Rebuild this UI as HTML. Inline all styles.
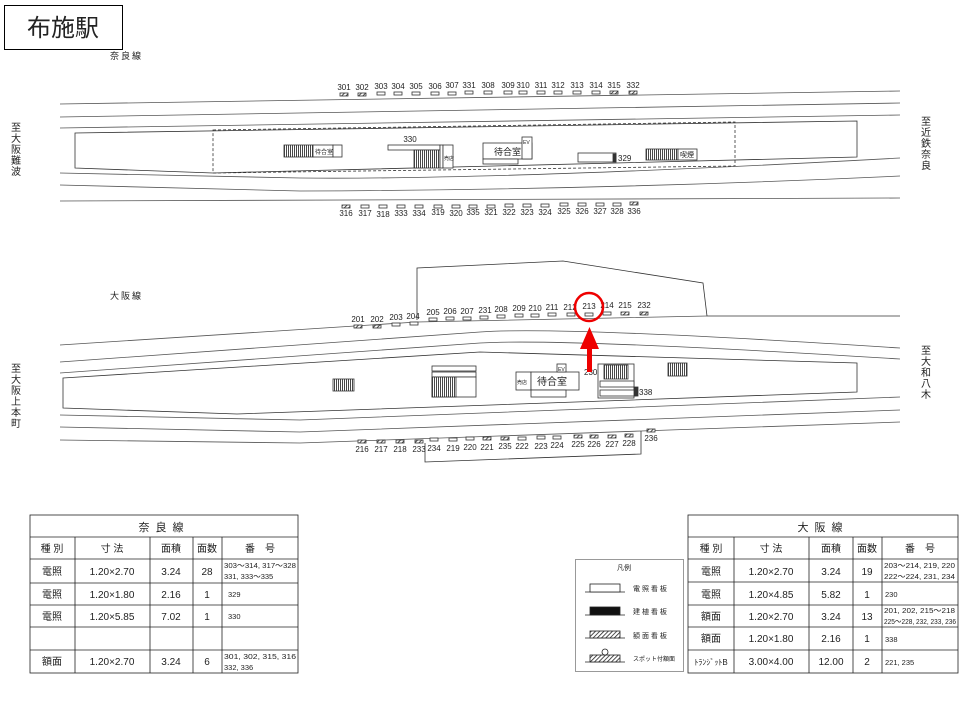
<!DOCTYPE html>
<html><head><meta charset="utf-8"><style>
html,body{margin:0;padding:0;background:#fff}
svg{display:block}
text{font-family:"Liberation Sans","Noto Sans CJK JP",sans-serif;fill:#222}
.n{font-size:8px;text-anchor:middle}
.t{font-size:10px}
</style></head><body>
<svg width="960" height="720" viewBox="0 0 960 720" xmlns="http://www.w3.org/2000/svg">
<defs>
<pattern id="h" width="3" height="3" patternUnits="userSpaceOnUse" patternTransform="rotate(45)"><rect width="3" height="3" fill="#fff"/><line x1="0" y1="0" x2="0" y2="3" stroke="#222" stroke-width="1.6"/></pattern>
<pattern id="st" width="2" height="4" patternUnits="userSpaceOnUse"><rect width="2" height="4" fill="#fff"/><line x1="0.5" y1="0" x2="0.5" y2="4" stroke="#333" stroke-width="0.9"/></pattern>
</defs>
<rect x="4.5" y="5.5" width="118" height="44" fill="none" stroke="#000"/>
<text x="63" y="36" style="font-size:24px" text-anchor="middle" fill="#000">布施駅</text>
<text x="110" y="59" style="font-size:9px;letter-spacing:2px">奈良線</text>

<g fill="none" stroke="#555" stroke-width="0.8">
<path d="M60,104 L900,91"/>
<path d="M60,117 L900,103"/>
<path d="M60,128 L900,115"/>
<path d="M75,133 L857,121 L857,157 L213,173 L75,168 Z" stroke="#333"/>
<path d="M213,130 L735,122 L735,166 L213,173 Z" stroke="#333" stroke-dasharray="3,2"/>
<path d="M60,173 L300,178 Q500,180 900,158"/>
<path d="M60,185 L300,191 Q600,190 900,176"/>
<path d="M60,201 L900,198"/>
<path d="M417,320 L417,268 L563,261 L703,283 L707,316 L900,316" stroke="#333"/>
<path d="M60,345 L417,322 L707,316"/>
<path d="M60,362 L480,332 Q560,326 900,348"/>
<path d="M60,373 L480,343 Q560,338 900,359"/>
<path d="M63,378 L480,352 L857,363 L857,392 L237,414 L63,408 Z" stroke="#333"/>
<path d="M60,415 L300,420 L900,397"/>
<path d="M60,427 L300,432 L900,410"/>
<path d="M60,440 L300,443 L641,431 L900,422"/>
<path d="M425,443 L425,462 L641,454 L641,431" stroke="#333"/>
</g>

<g stroke="#333" stroke-width="0.8">
<rect x="284" y="145" width="29" height="12" fill="url(#st)"/>
<rect x="313" y="145" width="20" height="12" fill="#fff"/>
<rect x="333" y="145" width="9" height="12" fill="#fff"/>
<rect x="388" y="145" width="52" height="5" fill="#fff"/>
<rect x="414" y="150" width="26" height="18" fill="url(#st)"/>
<rect x="440" y="145" width="3" height="23" fill="#fff"/>
<rect x="443" y="145" width="10" height="23" fill="#fff"/>
<rect x="483" y="143" width="49" height="16" fill="#fff"/>
<rect x="522" y="137" width="10" height="22" fill="#fff"/>
<rect x="483" y="159" width="35" height="5" fill="#fff"/>
<rect x="578" y="153" width="38" height="9" fill="#fff"/>
<rect x="613" y="154" width="3" height="8" fill="#333"/>
<rect x="646" y="149" width="32" height="11" fill="url(#st)"/>
<rect x="678" y="149" width="19" height="11" fill="#fff"/>
</g>
<text x="315" y="154" style="font-size:6px">待合室</text>
<text x="410" y="142" class="n">330</text>
<text x="444" y="160" style="font-size:5px">売店</text>
<text x="494" y="155" style="font-size:9px">待合室</text>
<text x="523" y="144" style="font-size:5px">EV</text>
<text x="618" y="161" style="font-size:8px">329</text>
<text x="680" y="157" style="font-size:7px">喫煙</text>

<g stroke="#333" stroke-width="0.8">
<rect x="333" y="379" width="21" height="12" fill="url(#st)"/>
<rect x="432" y="366" width="44" height="5" fill="#fff"/>
<rect x="432" y="372" width="44" height="5" fill="#fff"/>
<rect x="432" y="377" width="44" height="20" fill="#fff"/>
<rect x="432" y="377" width="24" height="20" fill="url(#st)"/>
<rect x="516" y="372" width="15" height="18" fill="#fff"/>
<rect x="531" y="372" width="48" height="18" fill="#fff"/>
<rect x="557" y="364" width="9" height="8" fill="#fff"/>
<rect x="531" y="390" width="35" height="7" fill="#fff"/>
<rect x="598" y="364" width="36" height="34" fill="#fff"/>
<rect x="604" y="365" width="24" height="14" fill="url(#st)"/>
<rect x="600" y="381" width="34" height="6" fill="#fff"/>
<rect x="600" y="390" width="36" height="6" fill="#fff"/>
<rect x="634" y="387" width="4" height="9" fill="#333"/>
<rect x="668" y="363" width="19" height="13" fill="url(#st)"/>
</g>
<text x="517" y="384" style="font-size:5px">売店</text>
<text x="537" y="385" style="font-size:10px">待合室</text>
<text x="558" y="371" style="font-size:5px">EV</text>
<text x="584" y="375" style="font-size:8px">230</text>
<text x="639" y="395" style="font-size:8px">338</text>

<g stroke="#333" stroke-width="0.8">
<rect x="340" y="93" width="8" height="3" fill="url(#h)"/><rect x="358" y="93" width="8" height="3" fill="url(#h)"/>
<rect x="377" y="92" width="8" height="3" fill="#fff"/><rect x="394" y="92" width="8" height="3" fill="#fff"/>
<rect x="412" y="92" width="8" height="3" fill="#fff"/><rect x="431" y="92" width="8" height="3" fill="#fff"/>
<rect x="448" y="92" width="8" height="3" fill="#fff"/><rect x="465" y="91" width="8" height="3" fill="#fff"/>
<rect x="484" y="91" width="8" height="3" fill="#fff"/><rect x="504" y="91" width="8" height="3" fill="#fff"/>
<rect x="519" y="91" width="8" height="3" fill="#fff"/><rect x="537" y="91" width="8" height="3" fill="#fff"/>
<rect x="554" y="91" width="8" height="3" fill="#fff"/><rect x="573" y="91" width="8" height="3" fill="#fff"/>
<rect x="592" y="91" width="8" height="3" fill="#fff"/><rect x="610" y="91" width="8" height="3" fill="url(#h)"/>
<rect x="629" y="91" width="8" height="3" fill="url(#h)"/>
</g>
<text class="n" x="344" y="90">301</text><text class="n" x="362" y="90">302</text><text class="n" x="381" y="89">303</text><text class="n" x="398" y="89">304</text><text class="n" x="416" y="89">305</text><text class="n" x="435" y="89">306</text><text class="n" x="452" y="88">307</text><text class="n" x="469" y="88">331</text><text class="n" x="488" y="88">308</text><text class="n" x="508" y="88">309</text><text class="n" x="523" y="88">310</text><text class="n" x="541" y="88">311</text><text class="n" x="558" y="88">312</text><text class="n" x="577" y="88">313</text><text class="n" x="596" y="88">314</text><text class="n" x="614" y="88">315</text><text class="n" x="633" y="88">332</text>

<g stroke="#333" stroke-width="0.8">
<rect x="342" y="205" width="8" height="3" fill="url(#h)"/><rect x="361" y="205" width="8" height="3" fill="#fff"/>
<rect x="379" y="205" width="8" height="3" fill="#fff"/><rect x="397" y="205" width="8" height="3" fill="#fff"/>
<rect x="415" y="205" width="8" height="3" fill="#fff"/><rect x="434" y="205" width="8" height="3" fill="#fff"/>
<rect x="452" y="205" width="8" height="3" fill="#fff"/><rect x="469" y="205" width="8" height="3" fill="#fff"/>
<rect x="487" y="205" width="8" height="3" fill="#fff"/><rect x="505" y="204" width="8" height="3" fill="#fff"/>
<rect x="523" y="204" width="8" height="3" fill="#fff"/><rect x="541" y="204" width="8" height="3" fill="#fff"/>
<rect x="560" y="203" width="8" height="3" fill="#fff"/><rect x="578" y="203" width="8" height="3" fill="#fff"/>
<rect x="596" y="203" width="8" height="3" fill="#fff"/><rect x="613" y="203" width="8" height="3" fill="#fff"/>
<rect x="630" y="202" width="8" height="3" fill="url(#h)"/>
</g>
<text class="n" x="346" y="216">316</text><text class="n" x="365" y="216">317</text><text class="n" x="383" y="217">318</text><text class="n" x="401" y="216">333</text><text class="n" x="419" y="216">334</text><text class="n" x="438" y="215">319</text><text class="n" x="456" y="216">320</text><text class="n" x="473" y="215">335</text><text class="n" x="491" y="215">321</text><text class="n" x="509" y="215">322</text><text class="n" x="527" y="215">323</text><text class="n" x="545" y="215">324</text><text class="n" x="564" y="214">325</text><text class="n" x="582" y="214">326</text><text class="n" x="600" y="214">327</text><text class="n" x="617" y="214">328</text><text class="n" x="634" y="214">336</text>

<text x="110" y="299" style="font-size:9px;letter-spacing:2px">大阪線</text>
<g stroke="#333" stroke-width="0.8">
<rect x="354" y="325" width="8" height="3" fill="url(#h)"/><rect x="373" y="325" width="8" height="3" fill="url(#h)"/>
<rect x="392" y="323" width="8" height="3" fill="#fff"/><rect x="410" y="322" width="8" height="3" fill="#fff"/>
<rect x="429" y="318" width="8" height="3" fill="#fff"/><rect x="446" y="317" width="8" height="3" fill="#fff"/>
<rect x="463" y="317" width="8" height="3" fill="#fff"/><rect x="480" y="316" width="8" height="3" fill="#fff"/>
<rect x="497" y="315" width="8" height="3" fill="#fff"/><rect x="515" y="314" width="8" height="3" fill="#fff"/>
<rect x="531" y="314" width="8" height="3" fill="#fff"/><rect x="548" y="313" width="8" height="3" fill="#fff"/>
<rect x="567" y="313" width="8" height="3" fill="#fff"/><rect x="585" y="313" width="8" height="3" fill="#fff"/>
<rect x="603" y="312" width="8" height="3" fill="#fff"/><rect x="621" y="312" width="8" height="3" fill="url(#h)"/>
<rect x="640" y="312" width="8" height="3" fill="url(#h)"/>
</g>
<text class="n" x="358" y="322">201</text><text class="n" x="377" y="322">202</text><text class="n" x="396" y="320">203</text><text class="n" x="413" y="319">204</text><text class="n" x="433" y="315">205</text><text class="n" x="450" y="314">206</text><text class="n" x="467" y="314">207</text><text class="n" x="485" y="313">231</text><text class="n" x="501" y="312">208</text><text class="n" x="519" y="311">209</text><text class="n" x="535" y="311">210</text><text class="n" x="552" y="310">211</text><text class="n" x="570" y="310">212</text><text class="n" x="589" y="309">213</text><text class="n" x="607" y="308">214</text><text class="n" x="625" y="308">215</text><text class="n" x="644" y="308">232</text>
<circle cx="589" cy="307" r="14" fill="none" stroke="#e00" stroke-width="2.5"/>
<rect x="587" y="348" width="5" height="24" fill="#e00"/>
<polygon points="580,349 599,349 589.5,327" fill="#e00"/>

<g stroke="#333" stroke-width="0.8">
<rect x="358" y="440" width="8" height="3" fill="url(#h)"/><rect x="377" y="440" width="8" height="3" fill="url(#h)"/>
<rect x="396" y="440" width="8" height="3" fill="url(#h)"/><rect x="415" y="440" width="8" height="3" fill="url(#h)"/>
<rect x="430" y="438" width="8" height="3" fill="#fff"/><rect x="449" y="438" width="8" height="3" fill="#fff"/>
<rect x="466" y="437" width="8" height="3" fill="#fff"/><rect x="483" y="437" width="8" height="3" fill="url(#h)"/>
<rect x="501" y="437" width="8" height="3" fill="url(#h)"/><rect x="518" y="437" width="8" height="3" fill="#fff"/>
<rect x="537" y="436" width="8" height="3" fill="#fff"/><rect x="553" y="436" width="8" height="3" fill="#fff"/>
<rect x="574" y="435" width="8" height="3" fill="url(#h)"/><rect x="590" y="435" width="8" height="3" fill="url(#h)"/>
<rect x="608" y="435" width="8" height="3" fill="url(#h)"/><rect x="625" y="434" width="8" height="3" fill="url(#h)"/>
<rect x="647" y="429" width="8" height="3" fill="url(#h)"/>
</g>
<text class="n" x="362" y="452">216</text><text class="n" x="381" y="452">217</text><text class="n" x="400" y="452">218</text><text class="n" x="419" y="452">233</text><text class="n" x="434" y="451">234</text><text class="n" x="453" y="451">219</text><text class="n" x="470" y="450">220</text><text class="n" x="487" y="450">221</text><text class="n" x="505" y="449">235</text><text class="n" x="522" y="449">222</text><text class="n" x="541" y="449">223</text><text class="n" x="557" y="448">224</text><text class="n" x="578" y="447">225</text><text class="n" x="594" y="447">226</text><text class="n" x="612" y="447">227</text><text class="n" x="629" y="446">228</text><text class="n" x="651" y="441">236</text>

<g style="font-size:10px" text-anchor="middle">
<text x="16" y="131">至</text><text x="16" y="142">大</text><text x="16" y="153">阪</text><text x="16" y="164">難</text><text x="16" y="175">波</text>
<text x="926" y="125">至</text><text x="926" y="136">近</text><text x="926" y="147">鉄</text><text x="926" y="158">奈</text><text x="926" y="169">良</text>
<text x="16" y="372">至</text><text x="16" y="383">大</text><text x="16" y="394">阪</text><text x="16" y="405">上</text><text x="16" y="416">本</text><text x="16" y="427">町</text>
<text x="926" y="354">至</text><text x="926" y="365">大</text><text x="926" y="376">和</text><text x="926" y="387">八</text><text x="926" y="398">木</text>
</g>

<g fill="none" stroke="#222" stroke-width="0.8">
<rect x="30" y="515" width="268" height="158"/>
<path d="M30,537H298M30,559H298M30,583H298M30,605H298M30,627H298M30,650H298"/>
<path d="M75,537V673M150,537V673M193,537V673M222,537V673"/>
</g>
<text x="164" y="531" style="font-size:11px;letter-spacing:6px" text-anchor="middle">奈良線</text>
<g class="t" text-anchor="middle">
<text x="52" y="552">種 別</text><text x="112" y="552">寸 法</text><text x="171" y="552">面積</text><text x="207" y="552">面数</text><text x="260" y="552">番　号</text>
<text x="52" y="575">電照</text><text x="112" y="575">1.20×2.70</text><text x="171" y="575">3.24</text><text x="207" y="575">28</text>
<text x="52" y="598">電照</text><text x="112" y="598">1.20×1.80</text><text x="171" y="598">2.16</text><text x="207" y="598">1</text>
<text x="52" y="620">電照</text><text x="112" y="620">1.20×5.85</text><text x="171" y="620">7.02</text><text x="207" y="620">1</text>
<text x="52" y="665">額面</text><text x="112" y="665">1.20×2.70</text><text x="171" y="665">3.24</text><text x="207" y="665">6</text>
</g>
<g style="font-size:7.5px">
<text x="224" y="568" textLength="72" lengthAdjust="spacingAndGlyphs">303～314, 317～328</text><text x="224" y="579">331, 333～335</text>
<text x="228" y="597">329</text><text x="228" y="619">330</text>
<text x="224" y="659" textLength="72" lengthAdjust="spacingAndGlyphs">301, 302, 315, 316</text><text x="224" y="670">332, 336</text>
</g>

<rect x="575.5" y="559.5" width="108" height="112" fill="none" stroke="#333" stroke-dasharray="1,1"/>
<text x="624" y="570" style="font-size:7px" text-anchor="middle">凡例</text>
<g stroke="#222" stroke-width="0.8">
<path d="M585,592H625"/><rect x="590" y="584" width="30" height="8" fill="#fff"/>
<path d="M585,615H625"/><rect x="590" y="607" width="30" height="8" fill="#111"/>
<path d="M585,638H625"/><rect x="590" y="631" width="30" height="7" fill="url(#h)"/>
<path d="M585,662H625"/><rect x="590" y="655" width="30" height="7" fill="url(#h)"/><circle cx="605" cy="652" r="3" fill="#fff"/>
</g>
<g style="font-size:7px">
<text x="633" y="591">電 照 看 板</text><text x="633" y="614">建 植 看 板</text><text x="633" y="638">額 面 看 板</text><text x="633" y="661" style="font-size:6px">スポット付額面</text>
</g>

<g fill="none" stroke="#222" stroke-width="0.8">
<rect x="688" y="515" width="270" height="158"/>
<path d="M688,537H958M688,559H958M688,582H958M688,605H958M688,627H958M688,650H958"/>
<path d="M734,537V673M809,537V673M853,537V673M882,537V673"/>
</g>
<text x="823" y="531" style="font-size:11px;letter-spacing:6px" text-anchor="middle">大阪線</text>
<g class="t" text-anchor="middle">
<text x="711" y="552">種 別</text><text x="771" y="552">寸 法</text><text x="831" y="552">面積</text><text x="867" y="552">面数</text><text x="920" y="552">番　号</text>
<text x="711" y="575">電照</text><text x="771" y="575">1.20×2.70</text><text x="831" y="575">3.24</text><text x="867" y="575">19</text>
<text x="711" y="598">電照</text><text x="771" y="598">1.20×4.85</text><text x="831" y="598">5.82</text><text x="867" y="598">1</text>
<text x="711" y="620">額面</text><text x="771" y="620">1.20×2.70</text><text x="831" y="620">3.24</text><text x="867" y="620">13</text>
<text x="711" y="642">額面</text><text x="771" y="642">1.20×1.80</text><text x="831" y="642">2.16</text><text x="867" y="642">1</text>
<text x="711" y="665" style="font-size:8px">ﾄﾗﾝｼﾞｯﾄB</text><text x="771" y="665">3.00×4.00</text><text x="831" y="665">12.00</text><text x="867" y="665">2</text>
</g>
<g style="font-size:7.5px">
<text x="884" y="568" textLength="71" lengthAdjust="spacingAndGlyphs">203～214, 219, 220</text><text x="884" y="579" textLength="71" lengthAdjust="spacingAndGlyphs">222～224, 231, 234</text>
<text x="885" y="597">230</text>
<text x="884" y="613" textLength="71" lengthAdjust="spacingAndGlyphs">201, 202, 215～218</text><text x="884" y="624" textLength="72" lengthAdjust="spacingAndGlyphs">225～228, 232, 233, 236</text>
<text x="885" y="642">338</text>
<text x="885" y="665">221, 235</text>
</g>
</svg>
</body></html>
